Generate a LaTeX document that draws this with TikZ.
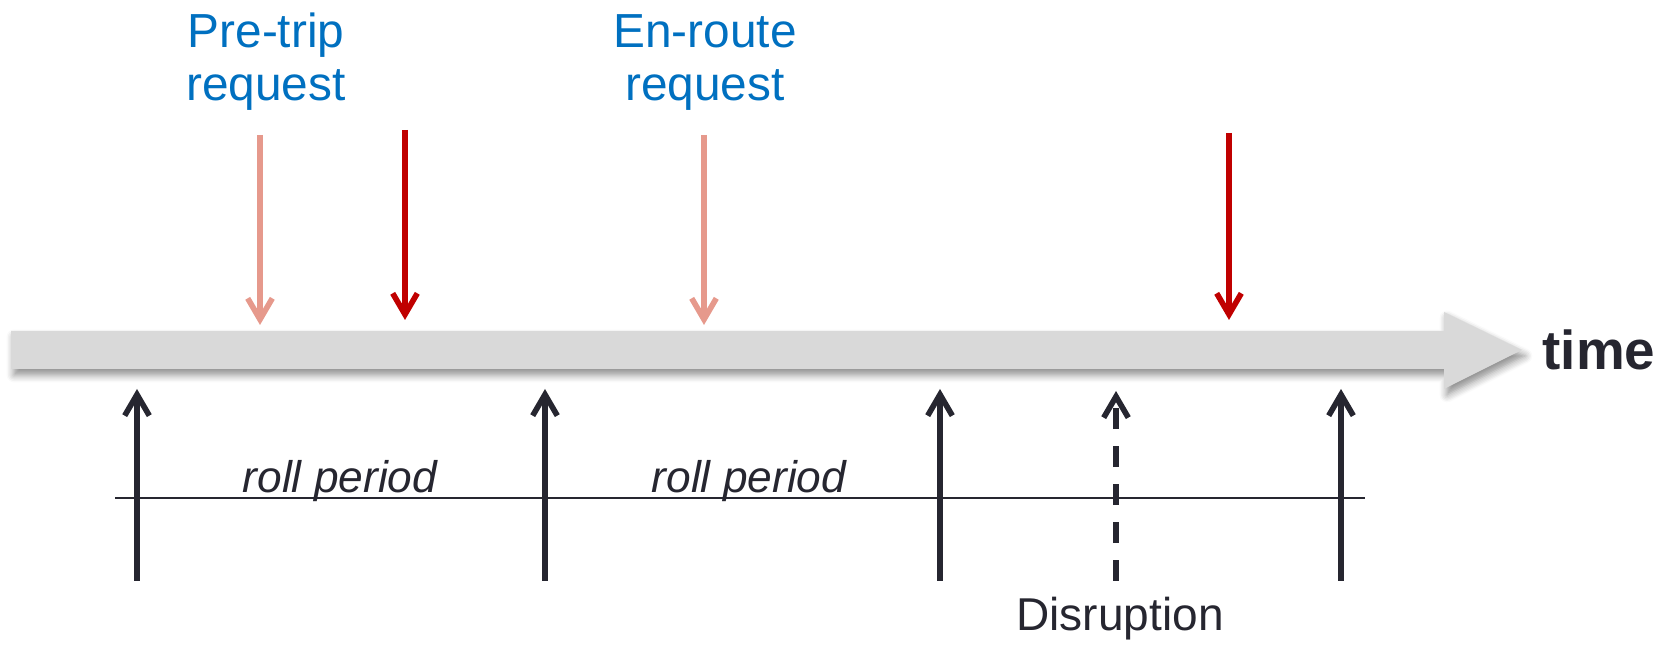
\documentclass[tikz,border=0pt]{standalone}
\usepackage{fontspec}
\setmainfont{Liberation Sans}
\usetikzlibrary{arrows.meta,shadows.blur}
\definecolor{reqblue}{RGB}{0,112,192}
\definecolor{pretripred}{RGB}{230,153,140}
\definecolor{solidred}{RGB}{192,0,0}
\definecolor{ink}{RGB}{38,38,48}
\definecolor{bargray}{RGB}{217,217,217}

\begin{document}
\begin{tikzpicture}
    \tikzstyle{reqtext}=[reqblue, align=center, font=\fontsize{13.6}{15.1}\selectfont]
    \tikzstyle{reqarrow}=[line width=1.6pt, -{Straight Barb[length=6pt,width=7pt]}]
    \tikzstyle{rollarrow}=[ink, line width=1.6pt, -{Straight Barb[length=6pt,width=7pt]}]
    \tikzstyle{rolltext}=[ink, anchor=base, font=\fontsize{12.6}{14}\selectfont\itshape]
    \useasboundingbox (0,0) rectangle (16.71,6.45);

    % time axis
    \fill[bargray, blur shadow={shadow xshift=0.3mm, shadow yshift=-0.6mm, shadow blur steps=6, shadow opacity=45}]
        (0.11,2.76) -- (14.44,2.76) -- (14.44,2.56) -- (15.22,2.95)
        -- (14.44,3.33) -- (14.44,3.14) -- (0.11,3.14) -- cycle;
    \coordinate (tip) at (15.22,2.95);
    \node[ink, anchor=west, inner sep=0pt, font=\fontsize{15.6}{18}\selectfont\bfseries] (time) at ([xshift=2mm]tip) {time};

    % requests
    \node[reqtext, anchor=base] (pretrip) at (2.66,5.44) {Pre-trip\\request};
    \node[reqtext, anchor=base] (enroute) at (7.05,5.44) {En-route\\request};
    \foreach \name/\x/\top/\bot/\col in {pa/2.60/5.10/3.20/pretripred, ra/4.05/5.15/3.25/solidred,
                                          pb/7.04/5.10/3.20/pretripred, rb/12.29/5.12/3.25/solidred} {
        \coordinate (\name top) at (\x,\top);
        \coordinate (\name bot) at (\x,\bot);
        \draw[reqarrow, \col] (\name top) -- (\name bot);
    }

    % roll periods
    \coordinate (lineleft) at (1.15,1.47);
    \coordinate (lineright) at (13.65,1.47);
    \draw[ink, line width=0.8pt] (lineleft) -- (lineright);
    \foreach \x [count=\i] in {1.37,5.45,9.40,13.41} {
        \coordinate (roll\i) at (\x,0.64);
        \coordinate (roll\i tip) at (\x,2.56);
        \draw[rollarrow] (roll\i) -- (roll\i tip);
    }
    \node[rolltext] (period1) at (3.40,1.52) {roll period};
    \node[rolltext] (period2) at (7.49,1.52) {roll period};

    % disruption
    \coordinate (dis) at (11.16,0.64);
    \coordinate (distip) at (11.16,2.54);
    \draw[rollarrow, dash pattern=on 6pt off 4.8pt] (dis) -- (distip);
    \node[ink, anchor=base, font=\fontsize{13.1}{15}\selectfont] (disruption) at (11.20,0.14) {Disruption};
\end{tikzpicture}
\end{document}
